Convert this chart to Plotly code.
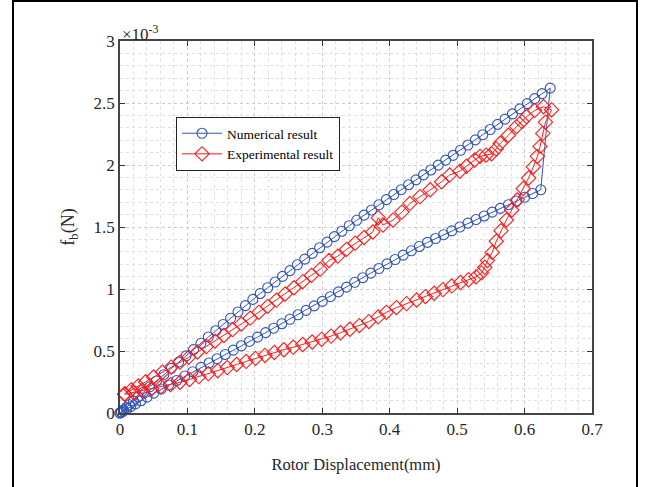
import plotly.graph_objects as go

# ---------------- data (y in units of 1e-3 N) ----------------
num_x = [0.0, 0.002, 0.005, 0.009, 0.014, 0.020, 0.027, 0.035, 0.044, 0.054, 0.065, 0.076, 0.087, 0.098,
         0.109, 0.120, 0.131, 0.142, 0.153, 0.164, 0.175, 0.186, 0.197, 0.208, 0.219, 0.230, 0.241, 0.252,
         0.263, 0.274, 0.285, 0.296, 0.307, 0.318, 0.329, 0.340, 0.351, 0.362, 0.373, 0.384, 0.395, 0.406,
         0.417, 0.428, 0.439, 0.450, 0.461, 0.472, 0.483, 0.494, 0.505, 0.516, 0.527, 0.538, 0.549, 0.560,
         0.571, 0.582, 0.593, 0.604, 0.615, 0.626, 0.638,
         0.624, 0.612, 0.600, 0.588, 0.576, 0.564, 0.552, 0.540, 0.528, 0.516, 0.504, 0.492, 0.480, 0.468,
         0.456, 0.444, 0.432, 0.420, 0.408, 0.396, 0.384, 0.372, 0.360, 0.348, 0.336, 0.324, 0.312, 0.300,
         0.288, 0.276, 0.264, 0.252, 0.240, 0.228, 0.216, 0.204, 0.192, 0.180, 0.168, 0.156, 0.144, 0.132,
         0.120, 0.108, 0.096, 0.084, 0.072, 0.061, 0.050, 0.040, 0.031, 0.023, 0.016, 0.010, 0.005, 0.002, 0.0]
num_fb = [0.000, 0.010, 0.024, 0.043, 0.067, 0.096, 0.130, 0.168, 0.211, 0.258, 0.309, 0.360, 0.410, 0.461,
          0.511, 0.562, 0.613, 0.663, 0.714, 0.764, 0.815, 0.866, 0.916, 0.964, 1.010, 1.056, 1.102, 1.148,
          1.195, 1.241, 1.287, 1.333, 1.378, 1.422, 1.466, 1.510, 1.554, 1.596, 1.637, 1.679, 1.721, 1.762,
          1.801, 1.841, 1.880, 1.920, 1.960, 1.999, 2.039, 2.078, 2.119, 2.161, 2.203, 2.244, 2.286, 2.328,
          2.370, 2.412, 2.453, 2.495, 2.535, 2.576, 2.620,
          1.800, 1.770, 1.740, 1.710, 1.680, 1.650, 1.620, 1.589, 1.560, 1.531, 1.500, 1.469, 1.438, 1.407,
          1.376, 1.343, 1.308, 1.273, 1.238, 1.203, 1.165, 1.128, 1.091, 1.054, 1.015, 0.977, 0.938, 0.900,
          0.864, 0.828, 0.792, 0.756, 0.720, 0.684, 0.648, 0.612, 0.577, 0.542, 0.507, 0.472, 0.438, 0.403,
          0.368, 0.333, 0.298, 0.262, 0.226, 0.193, 0.160, 0.128, 0.099, 0.074, 0.051, 0.032, 0.016, 0.006, 0.000]

exp_x = [0.007, 0.020, 0.033, 0.047, 0.061, 0.075, 0.089, 0.103, 0.117, 0.131, 0.145, 0.159, 0.173, 0.187,
         0.201, 0.215, 0.229, 0.243, 0.257, 0.271, 0.285, 0.299, 0.313, 0.327, 0.341, 0.355, 0.369, 0.383,
         0.395, 0.410, 0.425, 0.440, 0.453, 0.466, 0.479, 0.492, 0.505, 0.517, 0.528, 0.536, 0.541, 0.545,
         0.552, 0.558, 0.565, 0.573, 0.581, 0.589, 0.598, 0.606, 0.613, 0.619, 0.623, 0.627, 0.631, 0.640,
         0.628, 0.615, 0.603, 0.596, 0.588, 0.576, 0.564, 0.558, 0.551, 0.543, 0.534, 0.526, 0.514, 0.504,
         0.489, 0.477, 0.460, 0.445, 0.430, 0.418, 0.405, 0.390, 0.383, 0.375, 0.362, 0.349, 0.336, 0.323,
         0.310, 0.297, 0.284, 0.271, 0.258, 0.245, 0.232, 0.219, 0.206, 0.193, 0.180, 0.167, 0.154, 0.141,
         0.128, 0.115, 0.102, 0.089, 0.076, 0.063, 0.050, 0.038, 0.027, 0.017, 0.007]
exp_fb = [0.150, 0.165, 0.180, 0.196, 0.212, 0.229, 0.248, 0.270, 0.293, 0.317, 0.341, 0.366, 0.391, 0.416,
          0.441, 0.465, 0.488, 0.510, 0.531, 0.552, 0.573, 0.594, 0.620, 0.647, 0.675, 0.705, 0.737, 0.775,
          0.812, 0.850, 0.882, 0.911, 0.939, 0.966, 0.995, 1.025, 1.052, 1.075, 1.098, 1.130, 1.175, 1.230,
          1.295, 1.385, 1.470, 1.556, 1.637, 1.718, 1.810, 1.895, 1.985, 2.070, 2.150, 2.255, 2.345, 2.445,
          2.470, 2.440, 2.390, 2.350, 2.310, 2.240, 2.175, 2.130, 2.090, 2.080, 2.070, 2.040, 1.990, 1.950,
          1.920, 1.865, 1.800, 1.745, 1.690, 1.620, 1.556, 1.516, 1.575, 1.460, 1.415, 1.370, 1.320, 1.265,
          1.230, 1.160, 1.110, 1.060, 1.010, 0.960, 0.910, 0.860, 0.812, 0.765, 0.718, 0.672, 0.625, 0.580,
          0.535, 0.492, 0.450, 0.410, 0.370, 0.330, 0.290, 0.252, 0.218, 0.188, 0.155]

x_ticks = [0, 0.1, 0.2, 0.3, 0.4, 0.5, 0.6, 0.7]
y_ticks = [0, 0.5, 1, 1.5, 2, 2.5, 3]

FONT = "Liberation Serif"
AX = "#262626"
BLUE = "#3355b5"
RED = "#ff1a1a"

fig = go.Figure()
fig.add_trace(go.Scatter(x=num_x, y=num_fb, mode="lines+markers", name="Numerical result",
                         line=dict(color=BLUE, width=1),
                         marker=dict(symbol="circle-open", size=10, color=BLUE, line=dict(width=1.1)),
                         cliponaxis=False))
fig.add_trace(go.Scatter(x=exp_x, y=exp_fb, mode="lines+markers", name="Experimental result",
                         line=dict(color=RED, width=1),
                         marker=dict(symbol="diamond-open", size=11, color=RED, line=dict(width=1.1)),
                         cliponaxis=False))

axis_common = dict(showline=True, linecolor="#444444", linewidth=1.5, mirror="ticks",
                   ticks="inside", ticklen=5, tickwidth=1.2, tickcolor="#333333",
                   showgrid=True, gridcolor="#cccccc", griddash="dot", gridwidth=1,
                   zeroline=False, tickfont=dict(family=FONT, size=17, color=AX))

fig.update_xaxes(range=[0, 0.7], tickvals=x_ticks, ticktext=[f"{v:g}" for v in x_ticks],
                 minor=dict(dtick=0.02, showgrid=True, gridcolor="#e0e0e0", griddash="dot", ticks=""),
                 title=dict(text="Rotor Displacement(mm)", font=dict(family=FONT, size=16.5, color=AX), standoff=20),
                 **axis_common)
fig.update_yaxes(range=[0, 3], tickvals=y_ticks, ticktext=[f"{v:g}" for v in y_ticks],
                 minor=dict(dtick=0.1, showgrid=True, gridcolor="#e0e0e0", griddash="dot", ticks=""),
                 title=dict(text="f<sub>b</sub>(N)", font=dict(family=FONT, size=18, color=AX), standoff=14),
                 **axis_common)

L, R, T, B = 120, 57, 41, 74
W, H = 649, 487
pw, ph = W - L - R, H - T - B

def px(xp):
    return (xp - L) / pw

def py(yp):
    return (H - B - yp) / ph

fig.add_shape(type="rect", xref="paper", yref="paper", x0=px(13), x1=px(637), y0=py(520), y1=py(1),
              line=dict(color="black", width=2), fillcolor="rgba(0,0,0,0)", layer="above")

fig.add_annotation(xref="paper", yref="paper", x=px(120), y=py(33), xanchor="left", yanchor="middle",
                   text="×10<sup>-3</sup>", showarrow=False, font=dict(family=FONT, size=17, color=AX))

fig.update_layout(
    width=W, height=H, margin=dict(l=L, r=R, t=T, b=B),
    paper_bgcolor="white", plot_bgcolor="white",
    font=dict(family=FONT, color=AX),
    legend=dict(x=px(176), y=py(117), xanchor="left", yanchor="top",
                bgcolor="white", bordercolor="#222222", borderwidth=1,
                font=dict(family=FONT, size=13.5, color="black"), itemwidth=40,
                tracegroupgap=0),
)

fig.write_html("out.html")
